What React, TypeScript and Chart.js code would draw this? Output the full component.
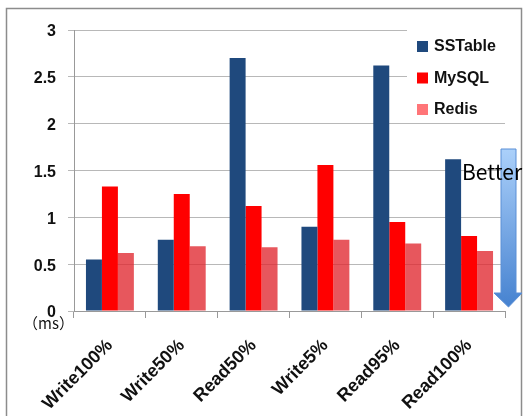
import React, { useEffect, useRef } from "react";
import { Chart, registerables } from "chart.js";

Chart.register(...registerables);

const categories = ["Write100%", "Write50%", "Read50%", "Write5%", "Read95%", "Read100%"];
const sstable = [0.55, 0.76, 2.7, 0.9, 2.62, 1.62];
const mysql = [1.33, 1.25, 1.12, 1.56, 0.95, 0.8];
const redis = [0.62, 0.69, 0.68, 0.76, 0.72, 0.64];
const seriesNames = ["SSTable", "MySQL", "Redis"];
const yTicks = [0, 0.5, 1, 1.5, 2, 2.5, 3];

const FONT = "'Liberation Sans', Arial, sans-serif";

const decorPlugin = {
  id: "decor",
  afterDraw(chart: any) {
    const ctx = chart.ctx;
    const ca = chart.chartArea;
    ctx.save();
    // legend box
    ctx.fillStyle = "#ffffff";
    ctx.fillRect(ca.right - 98, 24, 110, ca.top + 91 - 24);
    const swatches = ["#1F497D", "#FF0000", "#FF7578"];
    seriesNames.forEach((name, i) => {
      const cy = 46 + i * 31.5;
      ctx.fillStyle = swatches[i];
      ctx.fillRect(ca.right - 88, cy - 5, 11, 11);
      ctx.fillStyle = "#111";
      ctx.font = "bold 16px " + FONT;
      ctx.textBaseline = "middle";
      ctx.textAlign = "left";
      ctx.fillText(name, ca.right - 71, cy + 1);
    });
    // outer frame
    ctx.strokeStyle = "#8c8c8c";
    ctx.lineWidth = 1.5;
    ctx.strokeRect(6.5, 8.5, 515, 420);
    // (ms)
    ctx.fillStyle = "#111";
    ctx.font = "15px 'Noto Sans CJK JP', sans-serif";
    ctx.textAlign = "left";
    ctx.textBaseline = "alphabetic";
    ctx.fillText("（ms）", 23, 329);
    // arrow
    const x1 = 501, x2 = 516, top = 149, shaftBottom = 293, tip = 307;
    const g = ctx.createLinearGradient(0, top, 0, tip);
    g.addColorStop(0, "#abd0fa");
    g.addColorStop(1, "#4682d0");
    ctx.beginPath();
    ctx.moveTo(x1, top);
    ctx.lineTo(x2, top);
    ctx.lineTo(x2, shaftBottom);
    ctx.lineTo(522, shaftBottom);
    ctx.lineTo((x1 + x2) / 2, tip);
    ctx.lineTo(494, shaftBottom);
    ctx.lineTo(x1, shaftBottom);
    ctx.closePath();
    ctx.fillStyle = g;
    ctx.fill();
    ctx.strokeStyle = "#5b8fd6";
    ctx.lineWidth = 1;
    ctx.stroke();
    // Better
    ctx.fillStyle = "#000";
    ctx.font = "21px 'Noto Sans CJK JP', sans-serif";
    ctx.textBaseline = "alphabetic";
    ctx.fillText("Better", 462, 180);
    ctx.restore();
  },
};

export default function App() {
  const ref = useRef<HTMLCanvasElement>(null);
  useEffect(() => {
    document.body.style.margin = "0";
    const chart = new Chart(ref.current!, {
      type: "bar",
      data: {
        labels: categories,
        datasets: [
          { label: seriesNames[0], data: sstable, backgroundColor: "#1F497D" },
          { label: seriesNames[1], data: mysql, backgroundColor: "#FF0000" },
          { label: seriesNames[2], data: redis, backgroundColor: "rgba(224,40,48,0.78)" },
        ],
      },
      options: {
        responsive: false,
        animation: false,
        layout: { padding: { top: 30, right: 23, left: 0, bottom: 0 } },
        plugins: { legend: { display: false }, tooltip: { enabled: false } },
        datasets: { bar: { categoryPercentage: 0.667, barPercentage: 1 } },
        scales: {
          x: {
            grid: { drawOnChartArea: false, drawTicks: true, tickLength: 7, color: "#999", offset: true },
            border: { color: "#999", width: 1 },
            ticks: {
              minRotation: 45,
              maxRotation: 45,
              color: "#111",
              padding: 17,
              font: { family: FONT, size: 18, weight: "bold" },
            },
            afterFit: (s: any) => { s.height = 105; },
          },
          y: {
            min: 0,
            max: 3,
            afterBuildTicks: (s: any) => { s.ticks = yTicks.map((v) => ({ value: v })); },
            grid: { color: "#b8b8b8", tickLength: 6, lineWidth: 1 },
            border: { color: "#999", width: 1 },
            ticks: {
              color: "#111",
              padding: 12,
              labelOffset: 2,
              font: { family: FONT, size: 16, weight: "bold" },
              callback: (v: any) => String(v),
            },
            afterFit: (s: any) => { s.width = 74; },
          },
        },
      },
      plugins: [decorPlugin],
    });
    return () => chart.destroy();
  }, []);
  return <canvas ref={ref} width={528} height={416} style={{ display: "block" }} />;
}
